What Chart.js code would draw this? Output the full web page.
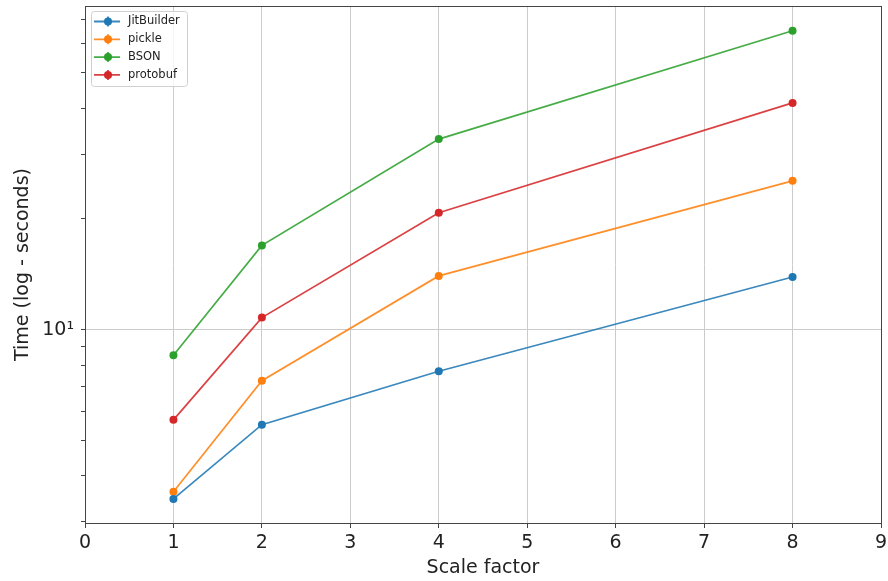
<!DOCTYPE html>
<html>
<head>
<meta charset="utf-8">
<title>Serialization time by scale factor</title>
<script src="https://cdn.jsdelivr.net/npm/chart.js@4/dist/chart.umd.min.js"></script>
<style>
  html, body { margin: 0; padding: 0; background: #fff; }
  #wrap { width: 888px; height: 581px; }
</style>
</head>
<body>
<div id="wrap"><canvas id="timeChart"></canvas></div>
<script>
// measured run times, seconds
const scale_factors = [1, 2, 4, 8];
const jitbuilder_times = [3.46, 5.51, 7.70, 13.9];
const pickle_times = [3.62, 7.26, 14.0, 25.4];
const bson_times = [8.51, 16.95, 33.0, 65.1];
const protobuf_times = [5.68, 10.78, 20.8, 41.4];

const series_names = ["JitBuilder", "pickle", "BSON", "protobuf"];
const series_colors = ["#1f77b4", "#ff7f0e", "#2ca02c", "#d62728"];

// log axis: one labelled decade, minor marks around it
const y_tick_values = [3, 4, 5, 6, 7, 8, 9, 10, 20, 30, 40, 50, 60, 70];
const y_tick_labels = { 10: "10\u00b9" };

const all_times = [jitbuilder_times, pickle_times, bson_times, protobuf_times];

const FONT = "'DejaVu Sans', sans-serif";
const GRID = "#cbcbcb";

function toPoints(values) {
  return scale_factors.map((x, i) => ({ x: x, y: values[i] }));
}

const datasets = series_names.map((name, i) => ({
  label: name,
  data: toPoints(all_times[i]),
  borderColor: series_colors[i] + "e0",
  backgroundColor: series_colors[i],
  borderWidth: 1.7,
  pointRadius: 4,
  pointHoverRadius: 4,
  pointBorderWidth: 0,
  tension: 0,
}));

// frame around the plot plus the boxed legend in the upper left
const framePlugin = {
  id: "frame",
  afterDraw(chart) {
    const ctx = chart.ctx;
    const a = chart.chartArea;
    ctx.save();
    ctx.strokeStyle = "#444";
    ctx.lineWidth = 1;
    ctx.strokeRect(a.left + 0.5, a.top + 0.5, a.right - a.left, a.bottom - a.top);

    // legend box
    const bx = a.left + 6, by = a.top + 5, bw = 96, bh = 75;
    ctx.fillStyle = "rgba(255,255,255,0.8)";
    ctx.strokeStyle = "#d0d0d0";
    ctx.beginPath();
    ctx.roundRect(bx + 0.5, by + 0.5, bw, bh, 3);
    ctx.fill();
    ctx.stroke();

    ctx.font = "11.5px " + FONT;
    ctx.textBaseline = "middle";
    chart.data.datasets.forEach((ds, i) => {
      const y = by + 10.5 + i * 17.8;
      const mx = bx + 17;
      ctx.strokeStyle = ds.borderColor;
      ctx.lineWidth = 1.8;
      ctx.beginPath();
      ctx.moveTo(bx + 3, y);
      ctx.lineTo(bx + 29, y);
      ctx.moveTo(mx, y - 5);
      ctx.lineTo(mx, y + 5);
      ctx.stroke();
      ctx.fillStyle = ds.backgroundColor;
      ctx.beginPath();
      ctx.arc(mx, y, 4, 0, Math.PI * 2);
      ctx.fill();
      ctx.fillStyle = "#222";
      ctx.fillText(ds.label, bx + 37, y);
    });
    ctx.restore();
  },
};

new Chart(document.getElementById("timeChart"), {
  type: "line",
  data: { datasets: datasets },
  options: {
    responsive: true,
    maintainAspectRatio: false,
    animation: false,
    layout: { padding: { top: 6, right: 7, left: 0, bottom: 0 } },
    plugins: {
      legend: { display: false },
      tooltip: { enabled: false },
    },
    scales: {
      x: {
        type: "linear",
        min: 0,
        max: 9,
        ticks: {
          stepSize: 1,
          color: "#222",
          padding: 4,
          font: { family: FONT, size: 19 },
        },
        grid: {
          color: GRID,
          lineWidth: 1,
          tickLength: 5,
          tickColor: "#444",
        },
        border: { display: false },
        title: {
          display: true,
          text: "Scale factor",
          color: "#222",
          font: { family: FONT, size: 19 },
          padding: { top: 0, bottom: 2 },
        },
        afterFit(scale) {
          scale.height = 58;
          scale.paddingLeft = 0;
          scale.paddingRight = 0;
        },
      },
      y: {
        type: "logarithmic",
        min: 2.975,
        max: 76,
        bounds: "data",
        afterBuildTicks(scale) {
          scale.ticks = y_tick_values.map(v => ({ value: v, major: v === 10 }));
        },
        ticks: {
          autoSkip: false,
          color: "#222",
          padding: 7,
          font: { family: FONT, size: 19 },
          callback: v => y_tick_labels[v] || "",
        },
        grid: {
          color: ctx => (ctx.tick && ctx.tick.value === 10 ? GRID : "rgba(0,0,0,0)"),
          lineWidth: 1,
          tickLength: 4,
          tickColor: "#444",
        },
        border: { display: false },
        title: {
          display: true,
          text: "Time (log - seconds)",
          color: "#222",
          font: { family: FONT, size: 19 },
          padding: { top: 12, bottom: 0 },
        },
        afterFit(scale) {
          scale.width = 85;
          scale.paddingTop = 0;
          scale.paddingBottom = 0;
        },
      },
    },
  },
  plugins: [framePlugin],
});
</script>
</body>
</html>
